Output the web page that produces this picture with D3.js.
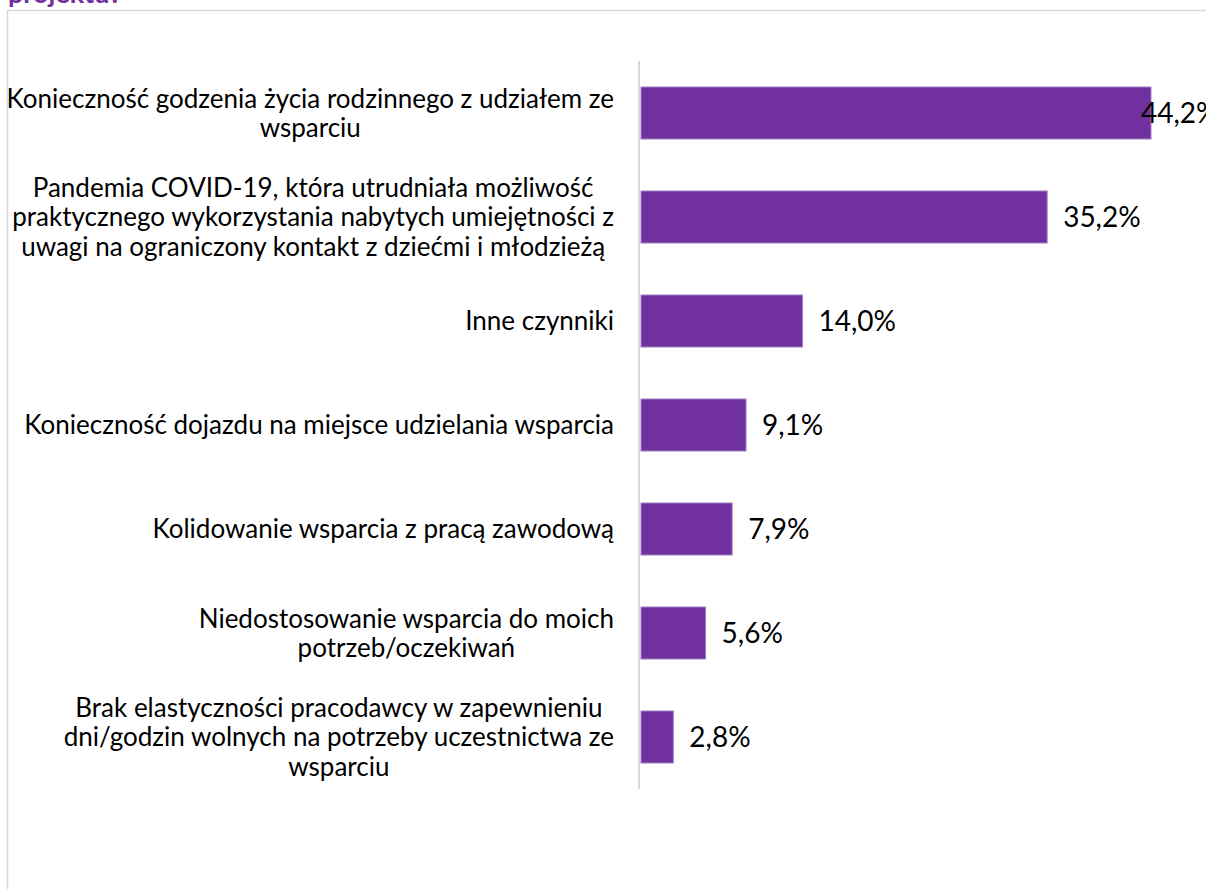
<!DOCTYPE html>
<html>
<head>
<meta charset="utf-8">
<script src="https://cdn.jsdelivr.net/npm/d3@7"></script>
<style>
  body { margin: 0; background: #fff; overflow: hidden; }
  text { font-family: Lato, "Open Sans", sans-serif; }
</style>
</head>
<body>
<div id="chart"></div>
<script>
// categories (lines as wrapped in the original) and values in %
var categories = [
    ["Konieczność godzenia życia rodzinnego z udziałem ze", "wsparciu"],
    ["Pandemia COVID-19, która utrudniała możliwość", "praktycznego wykorzystania nabytych umiejętności z", "uwagi na ograniczony kontakt z dziećmi i młodzieżą"],
    ["Inne czynniki"],
    ["Konieczność dojazdu na miejsce udzielania wsparcia"],
    ["Kolidowanie wsparcia z pracą zawodową"],
    ["Niedostosowanie wsparcia do moich", "potrzeb/oczekiwań"],
    ["Brak elastyczności pracodawcy w zapewnieniu", "dni/godzin wolnych na potrzeby uczestnictwa ze", "wsparciu"]
];
var values = [44.2, 35.2, 14.0, 9.1, 7.9, 5.6, 2.8];
var valueLabels = ["44,2%", "35,2%", "14,0%", "9,1%", "7,9%", "5,6%", "2,8%"];
var title = "projektu?";

var width = 1206, height = 889;
var purple = "#7030a0";

var svg = d3.select("#chart").append("svg")
    .attr("width", width)
    .attr("height", height);

// chart area frame (partly off page)
svg.append("rect")
    .attr("x", 7.5).attr("y", 10.5)
    .attr("width", 1250).attr("height", 950)
    .attr("fill", "none")
    .attr("stroke", "#d9d9d9")
    .attr("stroke-width", 1.5);

// title, mostly cut off above the page
svg.append("text")
    .attr("x", 8).attr("y", 3)
    .attr("fill", purple)
    .style("font-weight", "bold")
    .style("font-size", "27px")
    .text(title);

var x = d3.scaleLinear()
    .domain([0, 44.2])
    .range([640, 1150]);

var y = d3.scaleBand()
    .domain(d3.range(values.length))
    .range([61, 789])
    .paddingInner(0.5)
    .paddingOuter(0.25);

// axis line
svg.append("line")
    .attr("x1", 639).attr("x2", 639)
    .attr("y1", 61).attr("y2", 789)
    .attr("stroke", "#d9d9d9")
    .attr("stroke-width", 2);

svg.selectAll("rect.bar")
    .data(values)
    .enter()
    .append("rect")
    .attr("class", "bar")
    .attr("x", x(0) + 1)
    .attr("y", function(d, i) { return y(i); })
    .attr("width", function(d) { return x(d) - x(0); })
    .attr("height", y.bandwidth())
    .attr("fill", purple)
    .attr("stroke", "#a27fc6")
    .attr("stroke-width", 1);

// value labels
svg.selectAll("text.val")
    .data(values)
    .enter()
    .append("text")
    .attr("class", "val")
    .attr("x", function(d) { return Math.min(x(d) + 17, 1141); })
    .attr("y", function(d, i) { return y(i) + y.bandwidth() / 2; })
    .attr("dy", "0.36em")
    .style("font-size", "28px")
    .attr("fill", "#000")
    .text(function(d, i) { return valueLabels[i]; });

// category labels: block right-aligned, lines centred in block
var lineH = 29.5;
var labels = svg.selectAll("g.cat")
    .data(categories)
    .enter()
    .append("g")
    .attr("class", "cat");

labels.each(function(lines, i) {
    var g = d3.select(this);
    var cy = y(i) + y.bandwidth() / 2;
    var top = cy - (lines.length - 1) * lineH / 2;
    var t = g.selectAll("text")
        .data(lines)
        .enter()
        .append("text")
        .attr("y", function(d, j) { return top + j * lineH; })
        .attr("dy", "0.36em")
        .style("font-size", "26px")
        .attr("fill", "#000")
        .text(function(d) { return d; });
    var maxW = 0;
    t.each(function() { maxW = Math.max(maxW, this.getComputedTextLength()); });
    t.attr("x", 614 - maxW / 2).attr("text-anchor", "middle");
});
</script>
</body>
</html>
